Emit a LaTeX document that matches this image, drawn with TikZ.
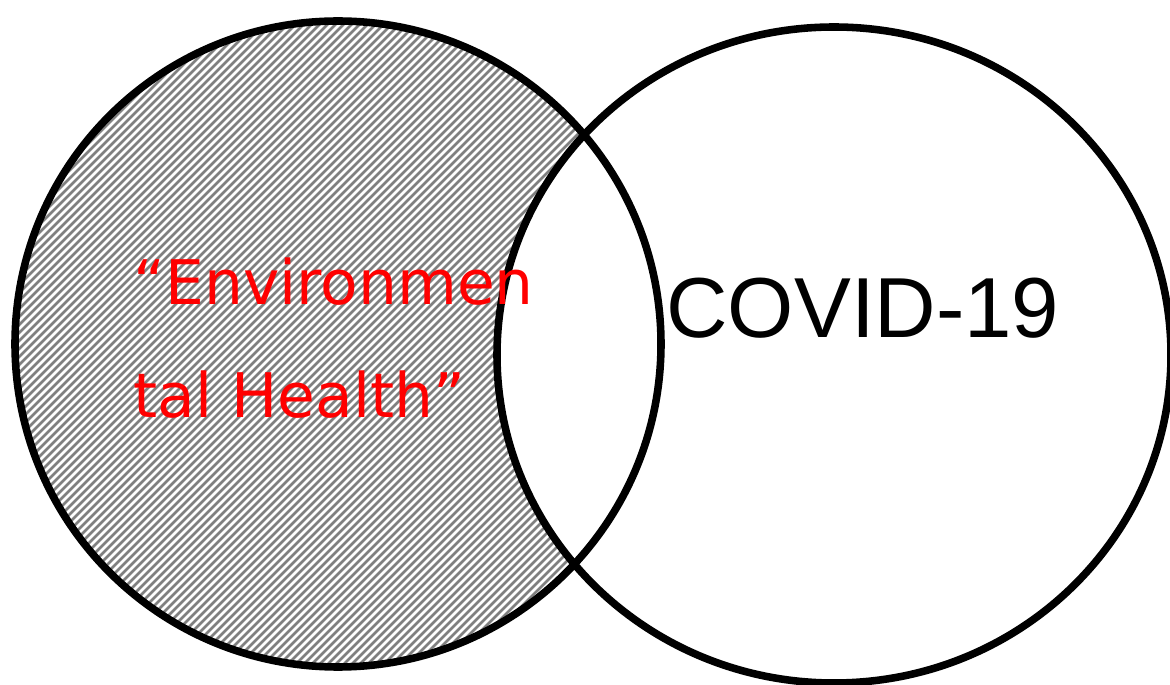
\documentclass[tikz,border=0pt]{standalone}
\usepackage{fontspec}
\usetikzlibrary{shapes.geometric}
\setmainfont{Liberation Sans}
\newfontfamily\humanfont{DejaVu Sans}
\begin{document}
\begin{tikzpicture}[x=0.02cm,y=-0.02cm,
  ring/.style={draw=black,line width=4.3pt},
  hatchline/.style={draw=black!50,line width=1.5pt},
  redlabel/.style={text=red,font=\humanfont\fontsize{35}{40}\selectfont,anchor=base west,inner sep=0pt},
  blacklabel/.style={text=black,font=\fontsize{48.5}{52}\selectfont,anchor=base west,inner sep=0pt}]
\useasboundingbox (0,0) rectangle (1170,685);
\begin{scope}[even odd rule]
  \clip (-50,-50) rectangle (1250,750) (834,355) ellipse [x radius=337,y radius=328];
  \clip (338,344) circle [radius=323];
  \foreach \k in {-800,-792,...,1300} {
    \draw[hatchline] (\k,720) -- (\k+720,0);
  }
\end{scope}
\node[ring,circle,minimum size=0.02cm*646,inner sep=0pt] (left) at (338,344) {};
\node[ring,ellipse,minimum width=0.02cm*674,minimum height=0.02cm*656,inner sep=0pt] (right) at (834,355) {};
\node[redlabel] (env1) at (133,305) {“Environmen};
\node[redlabel] (env2) at (133,418) {tal Health”};
\node[blacklabel] (covid) at (666,338) {COVID-19};
\end{tikzpicture}
\end{document}
